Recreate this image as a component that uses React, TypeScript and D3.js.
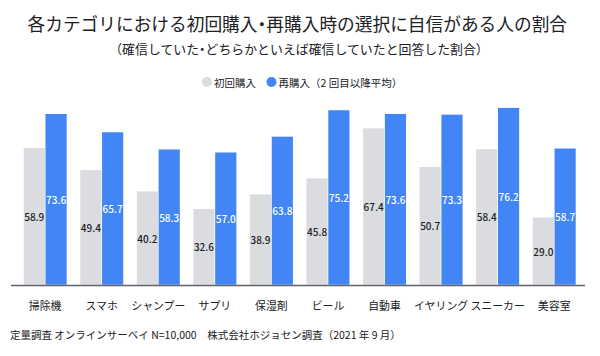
import React from "react";
import * as d3 from "d3";

const categories = ["掃除機", "スマホ", "シャンプー", "サプリ", "保湿剤", "ビール", "自動車", "イヤリング", "スニーカー", "美容室"];
const firstPurchase = [58.9, 49.4, 40.2, 32.6, 38.9, 45.8, 67.4, 50.7, 58.4, 29.0];
const repurchase = [73.6, 65.7, 58.3, 57.0, 63.8, 75.2, 73.6, 73.3, 76.2, 58.7];
const seriesKeys = ["first", "repeat"];
const seriesNames = ["初回購入", "再購入（2 回目以降平均）"];
const seriesColors = ["#dadce0", "#4285f4"];
const labelColors = ["#202124", "#ffffff"];

const title = "各カテゴリにおける初回購入・再購入時の選択に自信がある人の割合";
const subtitle = "（確信していた・どちらかといえば確信していたと回答した割合）";
const footnote = "定量調査 オンラインサーベイ N=10,000　株式会社ホジョセン調査（2021 年 9 月）";

const W = 600;
const H = 356;
const FONT = "'Noto Sans CJK JP', 'Noto Sans', sans-serif";
const halfDot = { fontFeatureSettings: "'halt' 1" } as React.CSSProperties;

// split a string around the middle dot so the dot can use half-width metrics
function withHalfDot(s: string) {
  const parts = s.split("・");
  const out: React.ReactNode[] = [];
  parts.forEach((p, i) => {
    if (i > 0) out.push(<tspan key={"d" + i} style={halfDot}>・</tspan>);
    out.push(<tspan key={"p" + i}>{p}</tspan>);
  });
  return out;
}

export default function App() {
  const x = d3.scaleBand<string>().domain(categories).range([16.9, 582.5]).paddingInner(0.24).paddingOuter(0.12);
  const xi = d3.scaleBand<string>().domain(seriesKeys).range([0, x.bandwidth()]).paddingInner(0.03);
  const y = d3.scaleLinear().domain([0, 100]).range([284.7, 52.7]);
  const series = [firstPurchase, repurchase];

  const legendX = [207, 271.5];
  return (
    <svg width={W} height={H} style={{ position: "absolute", left: 0, top: 0, background: "#fff" }} fontFamily={FONT}>
      <text x={297.3} y={23} textAnchor="middle" dominantBaseline="central" fontSize={17.7} fill="#202124">
        {withHalfDot(title)}
      </text>
      <text x={299} y={48} textAnchor="middle" dominantBaseline="central" fontSize={12.9} fill="#202124">
        {withHalfDot(subtitle)}
      </text>
      {seriesNames.map((n, i) => (
        <g key={n}>
          <circle cx={legendX[i]} cy={82} r={5} fill={seriesColors[i]} />
          <text x={legendX[i] + 7} y={82} dominantBaseline="central" fontSize={10.5} fill="#202124">{n}</text>
        </g>
      ))}
      {categories.map((c, ci) => (
        <g key={c} transform={`translate(${x(c)},0)`}>
          {seriesKeys.map((k, si) => {
            const v = series[si][ci];
            const bx = xi(k)!;
            const top = y(v);
            const bottom = y(0);
            return (
              <g key={k}>
                <rect x={bx} y={top} width={xi.bandwidth()} height={bottom - top} fill={seriesColors[si]} />
                <text x={bx + xi.bandwidth() / 2} y={(top + bottom) / 2} textAnchor="middle" dominantBaseline="central" fontSize={10} fontWeight={500} fill={labelColors[si]}>{v.toFixed(1)}</text>
              </g>
            );
          })}
          <text x={x.bandwidth() / 2} y={305} textAnchor="middle" dominantBaseline="central" fontSize={10.9} fill="#202124">{c}</text>
        </g>
      ))}
      <line x1={11} x2={585} y1={285.4} y2={285.4} stroke="#5f6368" strokeWidth={1.5} />
      <text x={10} y={334} dominantBaseline="central" fontSize={10.5} fill="#202124">{footnote}</text>
    </svg>
  );
}
